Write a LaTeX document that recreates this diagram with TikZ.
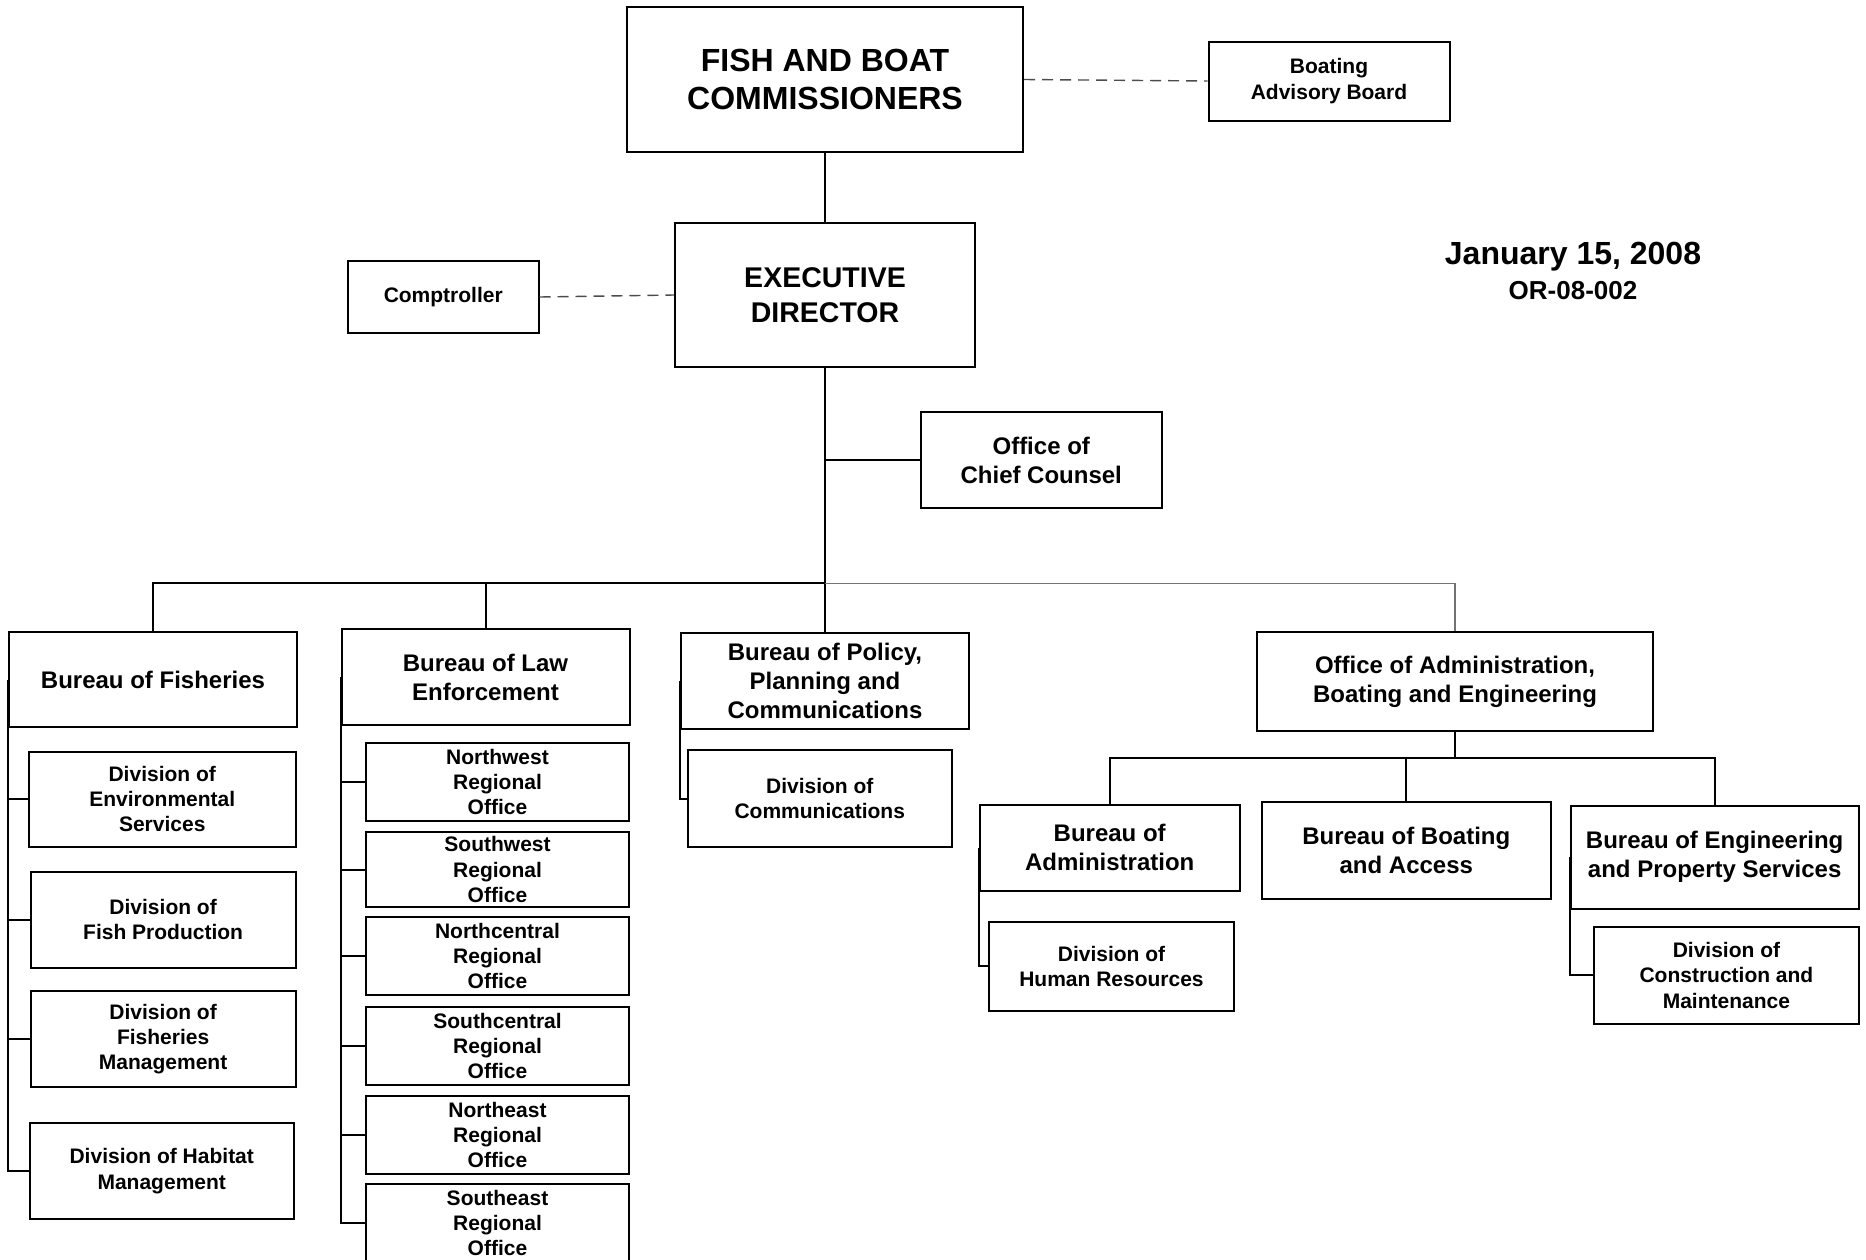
\documentclass[tikz,border=0pt]{standalone}
\usepackage{fontspec}
\setmainfont{Liberation Sans}
\begin{document}
\begin{tikzpicture}[x=1pt,y=-1pt,
  box/.style={draw, line width=2pt, inner sep=0pt, align=center, font=\bfseries\fontsize{21}{25.2}\selectfont},
  bigtxt/.style={font=\bfseries\fontsize{24}{29}\selectfont},
  conn/.style={line width=2pt},
  greyconn/.style={line width=1.3pt, black!55},
  dashline/.style={line width=1.4pt, black!70, dash pattern=on 11pt off 7pt},
  plain/.style={inner sep=0pt, align=center}
]
\useasboundingbox (0,0) rectangle (1866,1259);

% top level
\node[box, minimum width=396, minimum height=145, font=\bfseries\fontsize{32}{38}\selectfont] (fish) at (825,79.5) {FISH AND BOAT\\COMMISSIONERS};
\node[box, minimum width=241, minimum height=79] (boatadv) at (1329,81) {Boating\\Advisory Board};
\node[box, minimum width=300, minimum height=144, font=\bfseries\fontsize{28.5}{35}\selectfont] (ed) at (825,295) {EXECUTIVE\\DIRECTOR};
\node[box, minimum width=190.5, minimum height=72] (comp) at (443.25,297) {Comptroller};
\node[box, bigtxt, minimum width=240.5, minimum height=96] (counsel) at (1041.25,460) {Office of\\Chief Counsel};

\node[plain, font=\bfseries\fontsize{32}{38}\selectfont] (date) at (1573,257) {January 15, 2008};
\node[plain, font=\bfseries\fontsize{26}{31}\selectfont] (orno) at (1573,291) {OR-08-002};

% bureaus
\node[box, bigtxt, minimum width=288, minimum height=95] (fisheries) at (153,679.5) {Bureau of Fisheries};
\node[box, bigtxt, minimum width=288, minimum height=96] (law) at (485.5,677) {Bureau of Law\\Enforcement};
\node[box, bigtxt, minimum width=288.5, minimum height=96.4] (policy) at (825,681.2) {Bureau of Policy,\\Planning and\\Communications};
\node[box, bigtxt, minimum width=396, minimum height=99] (oabe) at (1455,681.5) {Office of Administration,\\Boating and Engineering};

% fisheries divisions
\node[box, minimum width=266.5, minimum height=95.5] (env) at (162.25,799.25) {Division of\\Environmental\\Services};
\node[box, minimum width=264.7, minimum height=95.7] (fishprod) at (163.15,919.65) {Division of\\Fish Production};
\node[box, minimum width=264.7, minimum height=95.6] (mgmt) at (163.15,1039.2) {Division of\\Fisheries\\Management};
\node[box, minimum width=264.5, minimum height=96] (habitat) at (161.75,1171) {Division of Habitat\\Management};

% law enforcement regions
\node[box, minimum width=263.8, minimum height=78] (nw) at (497.5,782) {Northwest\\Regional\\Office};
\node[box, minimum width=263.8, minimum height=75] (sw) at (497.5,869.5) {Southwest\\Regional\\Office};
\node[box, minimum width=263.8, minimum height=78] (nc) at (497.5,956) {Northcentral\\Regional\\Office};
\node[box, minimum width=263.8, minimum height=78] (sc) at (497.5,1046) {Southcentral\\Regional\\Office};
\node[box, minimum width=263.8, minimum height=78] (ne) at (497.5,1135) {Northeast\\Regional\\Office};
\node[box, minimum width=263.8, minimum height=78] (se) at (497.5,1223) {Southeast\\Regional\\Office};

% policy division
\node[box, minimum width=264.5, minimum height=97] (divcomm) at (819.75,798.5) {Division of\\Communications};

% OABE bureaus
\node[box, bigtxt, minimum width=260.2, minimum height=86.5] (admin) at (1109.7,847.75) {Bureau of\\Administration};
\node[box, bigtxt, minimum width=288.6, minimum height=97] (boatacc) at (1406.3,850.5) {Bureau of Boating\\and Access};
\node[box, bigtxt, minimum width=288.3, minimum height=103.5] (eng) at (1714.65,857.25) {Bureau of Engineering\\and Property Services};
\node[box, minimum width=245, minimum height=88.8] (hr) at (1111.5,966.1) {Division of\\Human Resources};
\node[box, minimum width=264.8, minimum height=97.3] (constr) at (1726.4,975.35) {Division of\\Construction and\\Maintenance};

% coordinates for buses
\coordinate (bus) at (825,583.4);
\coordinate (sbus) at (1455,757.5);

% connectors
\draw[conn] (fish.south) -- (ed.north);
\draw[dashline] (fish.east) -- (boatadv.west);
\draw[dashline] (comp.east) -- (ed.west);
\draw[conn] (ed.south) -- (policy.north);
\draw[conn] (counsel.west) -- (counsel.west -| ed.south);
\draw[conn] (fisheries.north) |- (bus);
\draw[conn] (law.north) |- (bus);
\draw[greyconn] (oabe.north) |- (bus);

\foreach \c in {env,fishprod,mgmt,habitat} \draw[conn] (fisheries.west) |- (\c.west);
\foreach \c in {nw,sw,nc,sc,ne,se} \draw[conn] (law.west) |- (\c.west);
\draw[conn] (policy.west) |- (divcomm.west);

\draw[conn] (oabe.south) -- (sbus);
\draw[conn] (admin.north) |- (sbus);
\draw[conn] (boatacc.north) |- (sbus);
\draw[conn] (eng.north) |- (sbus);
\draw[conn] (admin.west) |- (hr.west);
\draw[conn] (eng.west) |- (constr.west);
\end{tikzpicture}
\end{document}
